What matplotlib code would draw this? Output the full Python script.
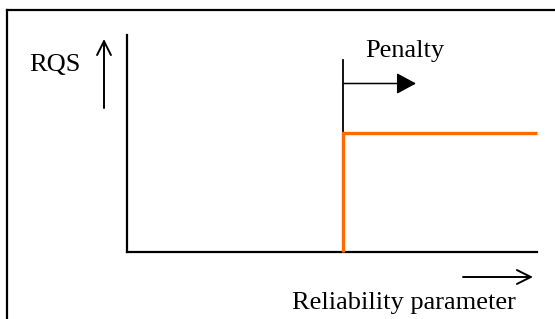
import matplotlib
matplotlib.use("Agg")
import matplotlib.pyplot as plt
from matplotlib.lines import Line2D
from matplotlib.patches import FancyArrowPatch

# Data (schematic step curve): RQS vs reliability parameter
reliability = [5.27, 5.27, 10.0]
rqs = [0.0, 5.48, 5.48]
x_label = "Reliability parameter"
y_label = "RQS"
penalty_label = "Penalty"

W, H = 555, 319
fig = plt.figure(figsize=(W / 100, H / 100), dpi=100)
plt.rcParams['font.family'] = ['Liberation Serif', 'DejaVu Serif']

def F(x, y):
    return (x / W, 1 - y / H)

# outer frame (top & left edges visible)
fig.add_artist(Line2D([7 / W, 1.0], [1 - 10 / H, 1 - 10 / H], color='black', lw=1.6,
                      transform=fig.transFigure))
fig.add_artist(Line2D([7 / W, 7 / W], [1 - 10 / H, 0.0], color='black', lw=1.6,
                      transform=fig.transFigure))

# main axes
x0, x1, y0, y1 = 127, 537, 35, 252
ax = fig.add_axes([x0 / W, 1 - y1 / H, (x1 - x0) / W, (y1 - y0) / H])
ax.set_xlim(0, 10)
ax.set_ylim(0, 10)
for s in ['top', 'right']:
    ax.spines[s].set_visible(False)
for s in ['left', 'bottom']:
    ax.spines[s].set_linewidth(1.6)
    ax.spines[s].set_color('black')
ax.set_xticks([])
ax.set_yticks([])
ax.patch.set_alpha(0)

ax.plot(reliability, rqs, color='#FF6A00', lw=2.4, clip_on=False, solid_joinstyle='miter',
        solid_capstyle='butt', zorder=5)

# penalty marker line (above the step)
ax.plot([reliability[0], reliability[0]], [rqs[1], 8.85], color='black', lw=1.3,
        clip_on=False, zorder=4)

fs = 19
fig.text(*F(29, 71), y_label, fontsize=fs, ha='left', va='baseline')
fig.text(*F(365, 57), penalty_label, fontsize=fs, ha='left', va='baseline')
fig.text(*F(292, 309), x_label, fontsize=fs, ha='left', va='baseline')

# arrows
open_style = '->,head_length=10,head_width=5'
fig.add_artist(FancyArrowPatch(
    F(104, 108), F(104, 39), transform=fig.transFigure,
    arrowstyle=open_style, color='black', lw=1.4,
    mutation_scale=1, shrinkA=0, shrinkB=0))
fig.add_artist(FancyArrowPatch(
    F(463, 277), F(533, 277), transform=fig.transFigure,
    arrowstyle=open_style, color='black', lw=1.4,
    mutation_scale=1, shrinkA=0, shrinkB=0))
fig.add_artist(FancyArrowPatch(
    F(344, 83.5), F(416, 83.5), transform=fig.transFigure,
    arrowstyle='-|>,head_length=12,head_width=6.5', color='black', lw=1.1,
    mutation_scale=1, shrinkA=0, shrinkB=0))

fig.savefig("out.png", dpi=100)
